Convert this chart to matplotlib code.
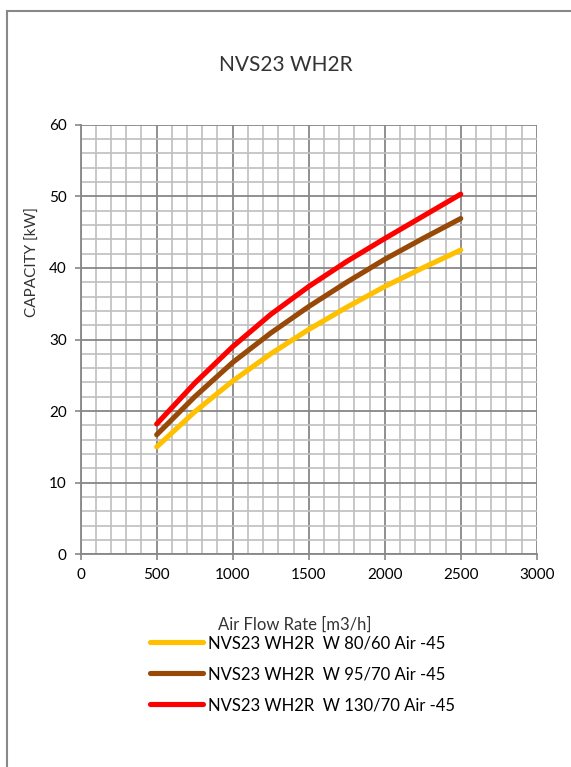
import numpy as np
import matplotlib
matplotlib.use('Agg')
import matplotlib.pyplot as plt
from matplotlib.lines import Line2D

# Дані
air_flow = [500, 750, 1000, 1250, 1500, 1750, 2000, 2250, 2500]
cap_80_60 = [15.0, 19.9, 24.2, 28.0, 31.4, 34.5, 37.4, 40.0, 42.5]
cap_95_70 = [16.7, 22.0, 26.8, 30.9, 34.6, 38.0, 41.2, 44.1, 46.9]
cap_130_70 = [18.2, 23.9, 29.0, 33.5, 37.4, 40.9, 44.1, 47.2, 50.3]
series_labels = ['NVS23 WH2R  W 80/60 Air -45',
                 'NVS23 WH2R  W 95/70 Air -45',
                 'NVS23 WH2R  W 130/70 Air -45']
series_colors = ['#FFC000', '#984807', '#FF0000']

plt.rcParams['font.family'] = ['Lato', 'DejaVu Sans']

fig = plt.figure(figsize=(5.71, 7.67), dpi=100)
ax = fig.add_axes([0.1413, 0.2773, 0.7987, 0.5601])

# Криві
for yv, c, lab in zip([cap_80_60, cap_95_70, cap_130_70], series_colors, series_labels):
    ax.plot(air_flow, yv, color=c, linewidth=3.7, solid_capstyle='round', label=lab, zorder=3)

ax.set_xlim(0, 3000)
ax.set_ylim(0, 60)
ax.set_xticks(np.arange(0, 3001, 500))
ax.set_yticks(np.arange(0, 61, 10))
ax.set_xticks(np.arange(0, 3001, 100), minor=True)
ax.set_yticks(np.arange(0, 61, 2), minor=True)
ax.grid(which='minor', color='#bfbfbf', linewidth=1.2, zorder=0)
ax.grid(which='major', color='#878787', linewidth=1.3, zorder=1)
ax.set_axisbelow(True)
ax.tick_params(which='minor', length=0)
ax.tick_params(which='major', length=4, width=1.2, color='#878787', labelsize=11, pad=6)
for side in ['top', 'right']:
    ax.spines[side].set_visible(False)
for side in ['left', 'bottom']:
    ax.spines[side].set_color('#878787')
    ax.spines[side].set_linewidth(1.3)

# Підписи
fig.text(0.5, 0.915, 'NVS23 WH2R', fontsize=15, color='#333333', ha='center', va='center')
ax.set_ylabel('CAPACITY [kW]', fontsize=11, color='#333333')
ax.yaxis.set_label_coords(-0.09, 0.68)
ax.set_xlabel('Air Flow Rate [m3/h]', fontsize=12, color='#333333')
ax.xaxis.set_label_coords(0.47, -0.146)

handles = [Line2D([0], [0], color=c, linewidth=3.7, solid_capstyle='round') for c in series_colors]
fig.legend(handles, series_labels, loc='upper left', bbox_to_anchor=(0.2625, 0.172),
           frameon=False, fontsize=12, handlelength=3.2, handletextpad=0.3,
           labelspacing=0.9, borderpad=0, borderaxespad=0)

# Зовнішня рамка
fig.add_artist(Line2D([0.0123, 0.0123], [0, 0.9857], color='#888888', linewidth=1.5))
fig.add_artist(Line2D([0.0123, 1.0], [0.9857, 0.9857], color='#888888', linewidth=1.5))

fig.savefig('out.png', dpi=100)
